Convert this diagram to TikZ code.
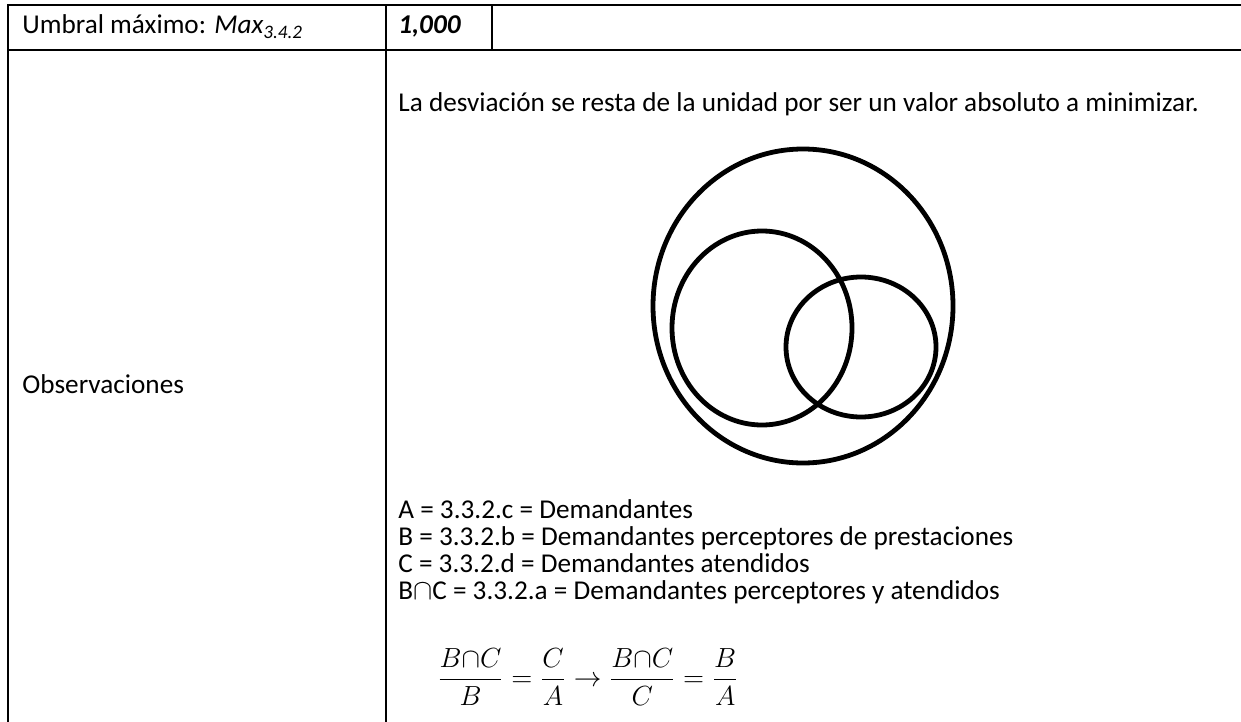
\documentclass[tikz,border=0pt]{standalone}
\usepackage{fontspec}
\setmainfont{Carlito}

\begin{document}
\begin{tikzpicture}[x=0.5pt,y=-0.5pt,
	rule/.style={line width=1.2pt},
	thinrule/.style={line width=0.6pt},
	venn/.style={line width=2.4pt},
	txt/.style={anchor=base west,inner sep=0pt,font=\fontsize{13.6}{16}\selectfont}]
		\useasboundingbox (0,0) rectangle (1241,722);
		% table
		\draw[rule] (7,5) -- (1241,5);
		\draw[rule] (7,50) -- (1241,50);
		\draw[rule] (8,5) -- (8,722);
		\draw[rule] (386,5) -- (386,722);
		\draw[thinrule] (492,5) -- (492,50);
		% cells
		\node[txt] (umbral) at (22,34) {Umbral máximo: \textit{Max}\textsubscript{\textit{3.4.2}}};
		\node[txt] (valor) at (398,34) {\textbf{\textit{1,000}}};
		\node[txt] (obs) at (22,393) {Observaciones};
		\node[txt] (nota) at (398,112) {La desviación se resta de la unidad por ser un valor absoluto a minimizar.};
		% venn
		\draw[venn] (803,306) ellipse [x radius=150, y radius=157];
		\draw[venn] (762,328) ellipse [x radius=90, y radius=97];
		\draw[venn] (861,347) ellipse [x radius=75, y radius=70];
		% legend (base = last line)
		\node[txt,align=left,font=\fontsize{13.6}{13.35}\selectfont] (leyenda) at (398,599)
			{A = 3.3.2.c = Demandantes\\
			B = 3.3.2.b = Demandantes perceptores de prestaciones\\
			C = 3.3.2.d = Demandantes atendidos\\
			B$\cap$C = 3.3.2.a = Demandantes perceptores y atendidos};
		\node[anchor=west,inner sep=0pt,scale=0.96,font=\fontsize{14.4}{16}\selectfont] (formula) at (437,677)
			{$\displaystyle \frac{B{\cap}C}{B}=\frac{C}{A}\rightarrow\frac{B{\cap}C}{C}=\frac{B}{A}$};
	\end{tikzpicture}
\end{document}
